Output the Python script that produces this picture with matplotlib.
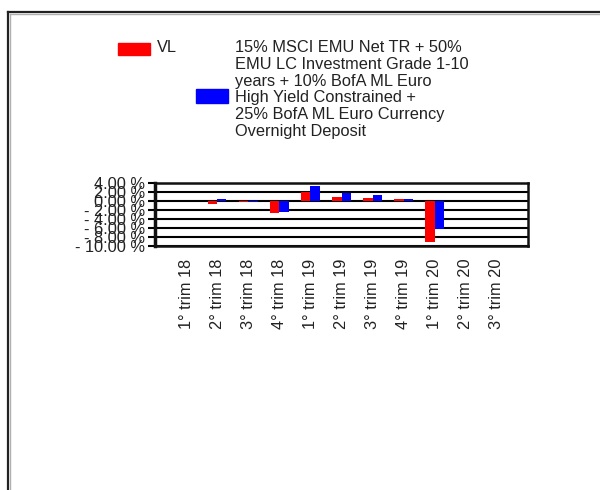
import matplotlib
matplotlib.use('Agg')
import matplotlib.pyplot as plt
from matplotlib.patches import Rectangle
from matplotlib.lines import Line2D
import numpy as np

plt.rcParams['font.family'] = ['Liberation Sans', 'DejaVu Sans']

# data
quarters = ['1° trim 18', '2° trim 18', '3° trim 18', '4° trim 18',
            '1° trim 19', '2° trim 19', '3° trim 19', '4° trim 19',
            '1° trim 20', '2° trim 20', '3° trim 20']
vl = [np.nan, -0.65, -0.25, -2.6, 2.05, 0.95, 0.6, 0.45, -9.2, np.nan, np.nan]
bench = [np.nan, 0.5, -0.25, -2.4, 3.3, 1.8, 1.3, 0.4, -6.3, np.nan, np.nan]
series_names = ['VL',
                '15% MSCI EMU Net TR + 50%\nEMU LC Investment Grade 1-10\n'
                'years + 10% BofA ML Euro\nHigh Yield Constrained +\n'
                '25% BofA ML Euro Currency\nOvernight Deposit']
series_colors = ['#ff0000', '#0000ff']
yticks = [4, 2, 0, -2, -4, -6, -8, -10]

W, H = 600, 490
FS = 11.8
TXT = '#222222'
fig = plt.figure(figsize=(6, 4.9), dpi=100)
fig.patch.set_facecolor('white')

# outer frame (runs off the right/bottom of the image)
for lw, col, off in [(1.6, '#222222', 0), (1.0, '#b0b0b0', 2)]:
    fig.add_artist(Line2D([(8 + off) / W, 1.0], [1 - (12 + off) / H] * 2,
                          transform=fig.transFigure, color=col, lw=lw))
    fig.add_artist(Line2D([(8 + off) / W] * 2, [1 - (12 + off) / H, 0.0],
                          transform=fig.transFigure, color=col, lw=lw))

ax = fig.add_axes([155 / W, 1 - 246 / H, 373 / W, 63 / H])
x = np.arange(len(quarters))
bw = 0.3
ax.bar(x - bw / 2, vl, bw, color=series_colors[0], zorder=3)
ax.bar(x + bw / 2, bench, bw, color=series_colors[1], zorder=3)

ax.set_xlim(-1, len(quarters))
ax.set_ylim(-10, 4)
ax.set_yticks(yticks)
ax.set_yticklabels([('- %.2f %%' % abs(v)) if v < 0 else ('%.2f %%' % v) for v in yticks],
                   fontsize=FS, color=TXT)
ax.set_xticks(x)
ax.set_xticklabels(quarters, rotation=90, fontsize=FS, color=TXT)
ax.tick_params(axis='x', length=0, pad=9)
ax.tick_params(axis='y', length=5, width=1.5, pad=2, color='black')
ax.grid(axis='y', color='black', lw=1.5, zorder=1)
for s in ax.spines.values():
    s.set_linewidth(1.8)
    s.set_color('#111111')
ax.spines['left'].set_linewidth(2.5)

# legend drawn by hand
fig.add_artist(Rectangle((118 / W, 1 - 55 / H), 32 / W, 12 / H,
                         transform=fig.transFigure, color=series_colors[0]))
fig.text(157 / W, 1 - 40 / H, series_names[0], va='top', ha='left',
         fontsize=FS, color=TXT)
fig.add_artist(Rectangle((196 / W, 1 - 103 / H), 32 / W, 14 / H,
                         transform=fig.transFigure, color=series_colors[1]))
fig.text(235 / W, 1 - 40 / H, series_names[1], va='top', ha='left',
         fontsize=FS, color=TXT, linespacing=1.15)

fig.savefig('out.png', dpi=100, facecolor='white')
